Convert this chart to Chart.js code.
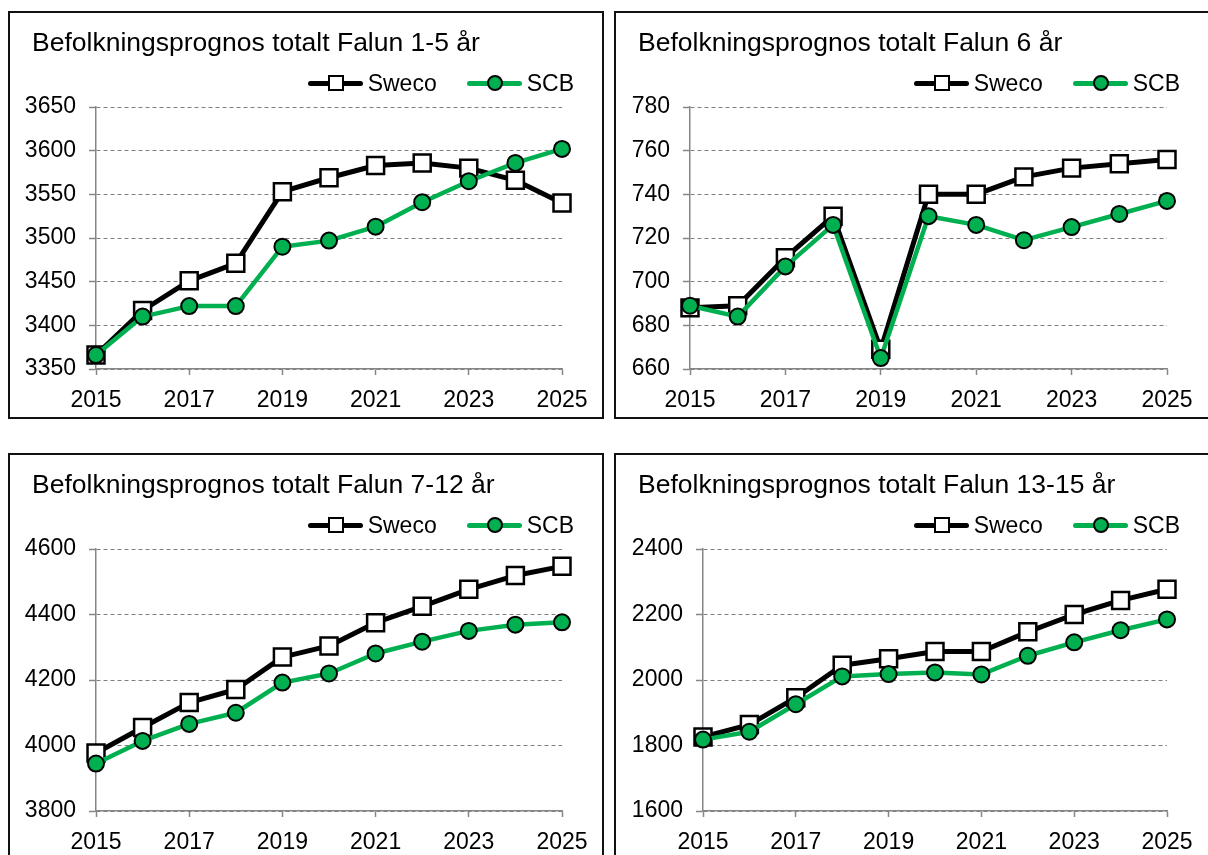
<!DOCTYPE html>
<html>
<head>
<meta charset="utf-8">
<script src="https://cdn.jsdelivr.net/npm/chart.js@4.4.1/dist/chart.umd.min.js"></script>
<style>
  body { margin: 0; background: #fff; width: 1208px; height: 855px; overflow: hidden; position: relative; font-family: 'Liberation Sans', Arial, sans-serif; }
  .panel { position: absolute; width: 596px; height: 408px; box-sizing: border-box; border: 2px solid #111; background: #fff; }
  .panel canvas { position: absolute; left: 0; top: 0; }
  .title { position: absolute; left: 22px; top: 16px; font-size: 26.5px; line-height: 26px; color: #000; white-space: nowrap; }
  .legend { position: absolute; right: 28px; top: 58px; height: 24px; display: flex; align-items: center; font-size: 23px; line-height: 24px; color: #000; }
  .legend .item { display: flex; align-items: center; }
  .legend .item + .item { margin-left: 30px; }
  .legend .sym { position: relative; width: 55px; height: 17px; margin-right: 5px; }
  .legend .sym .ln { position: absolute; left: 0; right: 0; top: 6px; height: 5px; border-radius: 2.5px; }
  .legend .sym .mk { position: absolute; box-sizing: border-box; }
  .legend .sweco .ln { background: #000; }
  .legend .sweco .mk { left: 20px; top: 0.5px; width: 16px; height: 16px; background: #fff; border: 2.5px solid #000; }
  .legend .scb .ln { background: #00B050; }
  .legend .scb .mk { left: 20px; top: 0.5px; width: 16px; height: 16px; border-radius: 50%; background: #00B050; border: 2px solid #000; }
</style>
</head>
<body>
<div class="panel" style="left:8px; top:11px;" id="p1"></div>
<div class="panel" style="left:614px; top:11px;" id="p2"></div>
<div class="panel" style="left:8px; top:453px;" id="p3"></div>
<div class="panel" style="left:614px; top:453px;" id="p4"></div>
<script>
// years on the x axis
const years = ['2015', '2016', '2017', '2018', '2019', '2020', '2021', '2022', '2023', '2024', '2025'];

// 1-5 år
const sweco1to5 = [3366, 3417, 3451, 3471, 3553, 3569, 3583, 3586, 3580, 3566, 3540];
const scb1to5   = [3366, 3410, 3422, 3422, 3490, 3497, 3513, 3541, 3565, 3586, 3602];
// 6 år
const sweco6 = [688, 689, 711, 730, 669, 740, 740, 748, 752, 754, 756];
const scb6   = [689, 684, 707, 726, 665, 730, 726, 719, 725, 731, 737];
// 7-12 år
const sweco7to12 = [3977, 4055, 4131, 4171, 4270, 4304, 4375, 4425, 4477, 4519, 4547];
const scb7to12   = [3945, 4014, 4066, 4100, 4192, 4220, 4281, 4317, 4350, 4369, 4376];
// 13-15 år
const sweco13to15 = [1826, 1864, 1946, 2045, 2065, 2087, 2087, 2147, 2200, 2243, 2277];
const scb13to15   = [1818, 1842, 1926, 2011, 2018, 2023, 2017, 2074, 2115, 2152, 2185];

// y axis ranges
const yMin  = [3350, 660, 3800, 1600];
const yMax  = [3650, 780, 4600, 2400];
const yStep = [50, 20, 200, 200];

const titles = [
    'Befolkningsprognos totalt Falun 1-5 år',
    'Befolkningsprognos totalt Falun 6 år',
    'Befolkningsprognos totalt Falun 7-12 år',
    'Befolkningsprognos totalt Falun 13-15 år'
];
const swecoSets = [sweco1to5, sweco6, sweco7to12, sweco13to15];
const scbSets = [scb1to5, scb6, scb7to12, scb13to15];

// plot area edges inside each panel (canvas coords)
const axisLeft  = [86, 74, 86, 87];
const axisRight = [552, 551, 552, 551];

const W = 592, H = 404;
const PLOT_TOP = 94, PLOT_BOTTOM = 356, X_AXIS_H = 44;
const FONT = "'Liberation Sans', Arial, sans-serif";
const AXIS_GREY = '#868686';

function makePanel(i) {
    const panel = document.getElementById('p' + (i + 1));
    panel.innerHTML = `
        <canvas width="${W}" height="${H}" style="width:${W}px;height:${H}px"></canvas>
        <div class="title">${titles[i]}</div>
        <div class="legend">
            <div class="item sweco"><div class="sym"><div class="ln"></div><div class="mk"></div></div>Sweco</div>
            <div class="item scb"><div class="sym"><div class="ln"></div><div class="mk"></div></div>SCB</div>
        </div>`;
    const ctx = panel.querySelector('canvas').getContext('2d');
    const left = axisLeft[i];
    new Chart(ctx, {
        type: 'line',
        data: {
            labels: years,
            datasets: [
                { label: 'Sweco', data: swecoSets[i], order: 1, clip: false, tension: 0,
                  borderColor: '#000', borderWidth: 5, borderJoinStyle: 'round',
                  pointStyle: 'rect', pointRadius: 12, pointHoverRadius: 12,
                  pointBackgroundColor: '#fff', pointBorderColor: '#000', pointBorderWidth: 2.5 },
                { label: 'SCB', data: scbSets[i], order: 0, clip: false, tension: 0,
                  borderColor: '#00B050', borderWidth: 4.5, borderJoinStyle: 'round',
                  pointStyle: 'circle', pointRadius: 8, pointHoverRadius: 8,
                  pointBackgroundColor: '#00B050', pointBorderColor: '#000', pointBorderWidth: 2 }
            ]
        },
        options: {
            responsive: false, animation: false, devicePixelRatio: 1,
            layout: { padding: { top: PLOT_TOP, left: 0, right: W - axisRight[i], bottom: H - PLOT_BOTTOM - X_AXIS_H } },
            plugins: { legend: { display: false }, title: { display: false }, tooltip: { enabled: false } },
            events: [],
            scales: {
                x: {
                    offset: false,
                    grid: { drawOnChartArea: false, drawTicks: true, tickLength: 6, tickWidth: 1.5,
                            tickColor: c => (c.index % 2 === 0 ? AXIS_GREY : 'rgba(0,0,0,0)') },
                    border: { color: AXIS_GREY, width: 1.5 },
                    ticks: { autoSkip: false, maxRotation: 0, padding: 12, color: '#000',
                             font: { family: FONT, size: 23 },
                             callback: (v, idx) => (idx % 2 === 0 ? years[idx] : '') },
                    afterFit: s => { s.height = X_AXIS_H; }
                },
                y: {
                    min: yMin[i], max: yMax[i],
                    grid: { color: '#7f7f7f', lineWidth: 1, tickLength: 7, tickColor: AXIS_GREY, tickWidth: 1.5 },
                    border: { color: AXIS_GREY, width: 1.5, dash: [4, 3] },
                    ticks: { stepSize: yStep[i], padding: 13, color: '#000',
                             font: { family: FONT, size: 23 },
                             callback: v => String(v) },
                    afterFit: s => { s.width = left; }
                }
            }
        }
    });
}

for (let i = 0; i < 4; i++) makePanel(i);
</script>
</body>
</html>
